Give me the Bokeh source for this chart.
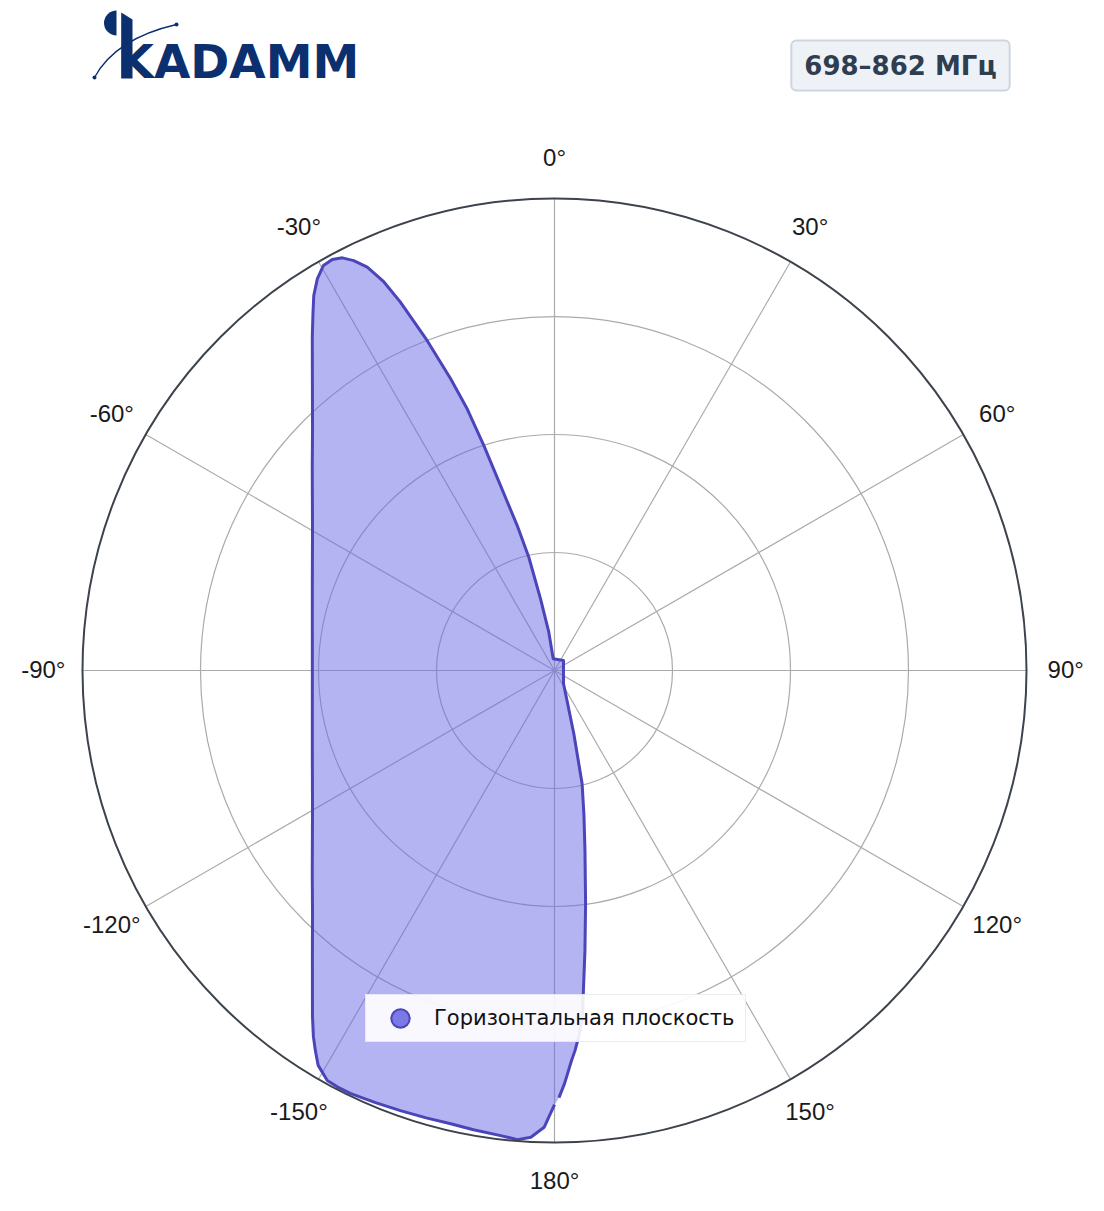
import numpy as np
from bokeh.plotting import figure
from bokeh.models import Range1d, Label, Legend, LegendItem
from bokeh.core.properties import value
from bokeh.embed import file_html
from bokeh.resources import INLINE

# ---------------- data ----------------
band_label = "698–862 МГц"
series_name = "Горизонтальная плоскость"
logo_text = "KADAMM"

# compass angle (deg, clockwise from top) and normalised gain
angles_deg = [-180, -178.7, -177.1, -175.5, -173.4, -170, -167.1, -164, -160.7, -157.5,
              -154.3, -152.5, -151, -149.1, -147.8, -146.6, -145, -140, -135, -130,
              -120, -110, -100, -90, -80, -70, -60, -50, -45, -40,
              -36, -34, -32.7, -31.2, -29.7, -28.4, -27.2, -26.1, -24.9, -23.7,
              -22.7, -21.1, -19.6, -18.45, -17.44, -16.27, -14.43, -12.78, -11.05, -8.46,
              -6.3, 42, 90, 145.3, 163, 166.3, 168.5, 170.4, 172.4, 173.8,
              175.4, 176.06, 176.9, 177.5, 178.6, 179.4]
gain = [0.920, 0.968, 0.990, 0.997, 0.992, 0.988, 0.985, 0.986, 0.988, 0.991,
        0.995, 0.995, 0.993, 0.975, 0.951, 0.928, 0.894, 0.798, 0.725, 0.670,
        0.592, 0.546, 0.521, 0.513, 0.521, 0.546, 0.592, 0.670, 0.725, 0.798,
        0.873, 0.915, 0.944, 0.970, 0.988, 0.990, 0.983, 0.967, 0.942, 0.899,
        0.846, 0.749, 0.656, 0.584, 0.500, 0.408, 0.317, 0.246, 0.155, 0.082,
        0.025, 0.0285, 0.019, 0.0335, 0.140, 0.247, 0.313, 0.387, 0.498, 0.597,
        0.737, 0.771, 0.806, 0.827, 0.875, 0.905]

angle_ticks = [0, 30, 60, 90, 120, 150, 180, -150, -120, -90, -60, -30]
angle_tick_labels = ["0°", "30°", "60°", "90°", "120°", "150°", "180°",
                     "-150°", "-120°", "-90°", "-60°", "-30°"]
radial_ticks = [0.25, 0.5, 0.75]
radial_max = 1.0

# ---------------- layout ----------------
W, H = 1100, 1205
S = 472.0            # pixels per unit radius
CX, CY = 554, 670    # pole position in canvas pixels


def X(px):  # canvas pixel -> data (decorations only)
    return (px - CX) / S


def Y(py):
    return (CY - py) / S


p = figure(width=W, height=H, output_backend="svg", toolbar_location=None,
           x_range=Range1d(-CX / S, (W - CX) / S),
           y_range=Range1d(-(H - CY) / S, CY / S),
           min_border=0, outline_line_color=None,
           x_axis_type=None, y_axis_type=None)
p.background_fill_color = "white"

grid_col = "#ababab"

# radial grid circles
n = len(radial_ticks)
p.circle(x=[0] * n, y=[0] * n, radius=radial_ticks, fill_color=None,
         line_color=grid_col, line_width=1.2)

# spokes
th = np.radians(angle_ticks)
p.segment(x0=[0] * len(th), y0=[0] * len(th),
          x1=list(radial_max * np.sin(th)), y1=list(radial_max * np.cos(th)),
          line_color=grid_col, line_width=1.2)

# data shape
a = np.radians(angles_deg)
r = np.array(gain)
xs = r * np.sin(a)
ys = r * np.cos(a)
p.patch(list(xs), list(ys), fill_color="#6c6ae8", fill_alpha=0.5, line_color=None)
p.line(list(xs), list(ys), line_color="#4b45b9", line_width=3, line_join="round")

# outer circle
p.circle(x=[0], y=[0], radius=[radial_max], fill_color=None,
         line_color="#3d434d", line_width=2)

# angle labels
lr = 1.083
p.text(x=list(lr * np.sin(th)), y=list(lr * np.cos(th) + 1.5 / S), text=angle_tick_labels,
       text_align="center", text_baseline="middle",
       text_font=value("Liberation Sans"), text_font_size="24px",
       text_color="#1a1a1a")

# ---------------- logo ----------------
navy = "#0b2f6f"
p.wedge(x=[X(116)], y=[Y(22.5)], radius=12.5 / S, start_angle=90, end_angle=270,
        start_angle_units="deg", end_angle_units="deg",
        fill_color=navy, line_color=None)
p.patch([X(120.7), X(132), X(132), X(120.7)], [Y(12), Y(19), Y(78), Y(78)],
        fill_color=navy, line_color=None)
p.text(x=[X(117)], y=[Y(61)], text=[logo_text], text_align="left",
       text_baseline="alphabetic", text_font=value("DejaVu Sans"),
       text_font_style="bold", text_font_size="47px", text_color=navy)
p.quadratic(x0=[X(94)], y0=[Y(77)], x1=[X(176)], y1=[Y(24)],
            cx=[X(115)], cy=[Y(38)], line_color=navy, line_width=1.3)
p.scatter(x=[X(94), X(176)], y=[Y(77), Y(24)], size=4, marker="circle",
          fill_color=navy, line_color=None)

# ---------------- badge ----------------
badge = Label(x=X(900), y=Y(65), text=band_label, text_align="center",
              text_baseline="middle", text_font="DejaVu Sans",
              text_font_style="bold", text_font_size="26px", text_color="#2e3e50",
              background_fill_color="#eef2f7", border_line_color="#cdd5df",
              border_line_width=2, padding=(13, 10), border_radius=5)
p.add_layout(badge)

# ---------------- legend ----------------
sc = p.scatter(x=[float("nan")], y=[float("nan")], size=20, marker="circle",
               fill_color="#7b78e8", line_color="#4b45b5", line_width=2)
legend = Legend(items=[LegendItem(label=series_name, renderers=[sc])],
                location=(365, H - 1042), padding=0, margin=0,
                glyph_width=68, glyph_height=46, label_standoff=0, label_width=311,
                label_text_font="DejaVu Sans", label_text_font_size="21px",
                label_text_color="#111111", label_text_baseline="middle",
                border_line_color="#d6dae6", border_line_width=1.5,
                background_fill_color="white", background_fill_alpha=0.9)
p.add_layout(legend)

open("out.html", "w", encoding="utf-8").write(file_html(p, INLINE))
